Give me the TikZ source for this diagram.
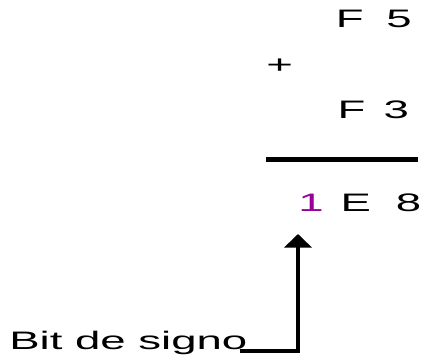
\documentclass[tikz,border=0pt]{standalone}
\usepackage{fontspec}
\setmainfont{Liberation Sans}
\usepackage{graphicx}
\usepackage{tikz}
\usetikzlibrary{arrows.meta}
\usepackage{xcolor}
\definecolor{SignPurple}{HTML}{990099}
\newcommand{\stretchx}[1]{\scalebox{1.8}[1]{#1}}

\begin{document}
\begin{tikzpicture}[
    every node/.style={
        inner sep=0pt,
        font=\fontsize{18}{20}\selectfont,
        text=black
    },
    digits/.style={
        anchor=base east
    },
    rulebar/.style={
        line width=3.5pt
    },
    signarrow/.style={
        line width=2.8pt,
        -{Triangle[length=3.4mm,width=6.8mm]}
    }
]

\useasboundingbox (0,0) rectangle (10.525,8.95);

\node[digits] (fa) at (10.3,8.25) {\stretchx{F\hspace{0.5em}5}};

\node[anchor=base] (plus) at (6.99,7.1) {\stretchx{+}};

\node[digits] (fb) at (10.23,5.975) {\stretchx{F\hspace{0.4em}3}};

\draw[rulebar] (6.65,4.9625)--(10.45,4.9625);

\node[digits] (sum) at (10.54,3.65)
    {\stretchx{\textcolor{SignPurple}{1}\hspace{0.37em}E\hspace{0.55em}8}};

\node[anchor=base west] (sign) at (0.225,0.2) {\stretchx{Bit de signo}};

\coordinate (tip) at (7.45,3.1);

\draw[signarrow] ([xshift=-0.2cm,yshift=-0.025cm]sign.base east) -| (tip);

\end{tikzpicture}
\end{document}
